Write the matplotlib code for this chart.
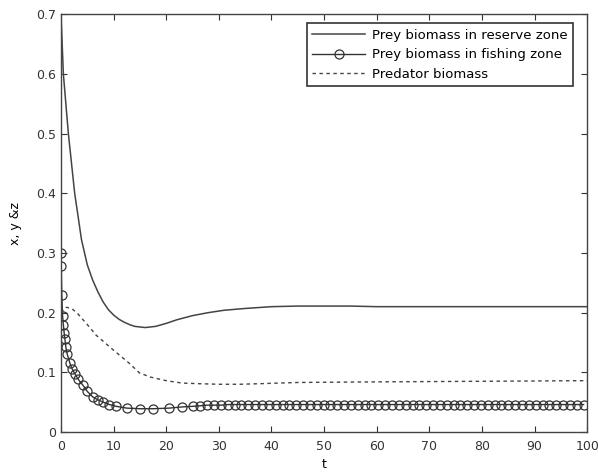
import matplotlib
matplotlib.use('Agg')
from matplotlib import pyplot as plt

plt.rcParams['font.family'] = ['DejaVu Sans']

# prey biomass in reserve zone
t_res = [0, 0.45, 1.4, 2.6, 3.9, 5, 6, 7, 8, 9, 10, 11, 12, 13, 14, 15, 16, 17, 18,
         20, 22, 25, 28, 31, 35, 40, 45, 50, 55, 60, 70, 80, 90, 100]
x_res = [0.70, 0.60, 0.50, 0.40, 0.322, 0.28, 0.255, 0.235, 0.218, 0.205, 0.196,
         0.189, 0.184, 0.180, 0.177, 0.176, 0.175, 0.176, 0.177, 0.182, 0.188,
         0.195, 0.200, 0.204, 0.207, 0.210, 0.211, 0.211, 0.211, 0.210, 0.210,
         0.210, 0.210, 0.210]

# prey biomass in fishing zone (solver output points)
t_fish = [0, 0.05, 0.15, 0.3, 0.45, 0.6, 0.75, 0.9, 1.2, 1.7, 2.1, 2.6, 3.3, 4.2,
          5.0, 6.0, 7.0, 8.0, 9.2, 10.5, 12.5, 15.0, 17.5, 20.5, 23.0, 25.0, 26.5,
          27.8, 29.1, 30.4, 31.7, 33.0, 34.3, 35.6, 36.9, 38.2, 39.5, 40.8, 42.1,
          43.4, 44.7, 46.0, 47.3, 48.6, 49.9, 51.2, 52.5, 53.8, 55.1, 56.4, 57.7,
          59.0, 60.3, 61.6, 62.9, 64.2, 65.5, 66.8, 68.1, 69.4, 70.7, 72.0, 73.3,
          74.6, 75.9, 77.2, 78.5, 79.8, 81.1, 82.4, 83.7, 85.0, 86.3, 87.6, 88.9,
          90.2, 91.5, 92.8, 94.1, 95.4, 96.7, 98.0, 99.3]
y_fish = [0.300, 0.278, 0.230, 0.195, 0.180, 0.166, 0.155, 0.143, 0.130, 0.115,
          0.106, 0.098, 0.088, 0.078, 0.068, 0.059, 0.054, 0.050, 0.046, 0.043,
          0.040, 0.039, 0.039, 0.040, 0.042, 0.043, 0.044,
          0.045, 0.045, 0.045, 0.046, 0.046, 0.046, 0.046, 0.046, 0.046, 0.046,
          0.046, 0.046, 0.046, 0.046, 0.046, 0.046, 0.046, 0.046, 0.046, 0.046,
          0.046, 0.046, 0.046, 0.046, 0.046, 0.046, 0.046, 0.046, 0.046, 0.046,
          0.046, 0.046, 0.046, 0.046, 0.046, 0.046, 0.046, 0.046, 0.046, 0.046,
          0.046, 0.046, 0.046, 0.046, 0.046, 0.046, 0.046, 0.046, 0.046, 0.046,
          0.046, 0.046, 0.046, 0.046, 0.046, 0.046]

# predator biomass
t_pred = [0, 1, 2, 3, 5, 6.7, 10, 13, 14.9, 17, 20, 23, 26, 30, 34, 38, 45, 60,
          80, 100]
z_pred = [0.200, 0.209, 0.207, 0.200, 0.180, 0.162, 0.137, 0.115, 0.099, 0.092,
          0.086, 0.082, 0.081, 0.080, 0.080, 0.081, 0.083, 0.084, 0.085, 0.086]

fig = plt.figure(figsize=(5.98, 4.74), dpi=100)
ax = fig.add_axes([0.102, 0.0886, 0.880, 0.8814])

ax.plot(t_res, x_res, color='#444444', lw=1.1, label='Prey biomass in reserve zone')
ax.plot(t_fish, y_fish, color='#333333', lw=1.0, marker='o', markersize=6.5,
        markerfacecolor='none', markeredgecolor='#333333', markeredgewidth=0.9,
        label='Prey biomass in fishing zone')
ax.plot(t_pred, z_pred, color='#444444', lw=1.0, dashes=(2.5, 2.5),
        label='Predator biomass')

ax.set_xlim(0, 100)
ax.set_ylim(0, 0.7)
ax.set_xticks(range(0, 101, 10))
ax.set_yticks([0, 0.1, 0.2, 0.3, 0.4, 0.5, 0.6, 0.7])
ax.set_yticklabels(['0', '0.1', '0.2', '0.3', '0.4', '0.5', '0.6', '0.7'])
ax.tick_params(direction='in', top=True, right=True, length=4, labelsize=9,
               colors='#333333')
ax.tick_params(axis='x', pad=6)
for s in ax.spines.values():
    s.set_color('#444444')
    s.set_linewidth(1.0)

ax.set_xlabel('t', fontsize=9, labelpad=3)
ax.set_ylabel('x, y &z', fontsize=9, labelpad=10)

leg = ax.legend(loc='upper right', bbox_to_anchor=(0.972, 0.978), borderaxespad=0,
                fontsize=9.5, frameon=True, fancybox=False, framealpha=1,
                handlelength=4.0, labelspacing=0.5, handletextpad=0.5,
                borderpad=0.4)
leg.get_frame().set_edgecolor('#333333')
leg.get_frame().set_linewidth(1.2)

fig.savefig('out.png', dpi=100)
